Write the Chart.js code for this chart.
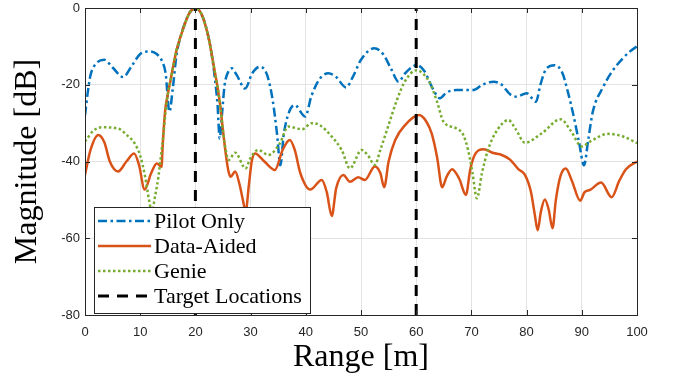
<!DOCTYPE html>
<html><head><meta charset="utf-8">
<script src="https://cdn.jsdelivr.net/npm/chart.js@4/dist/chart.umd.min.js"></script>
<style>html,body{margin:0;padding:0;background:#fff}canvas{display:block}</style>
</head><body>
<canvas id="c" width="675" height="379"></canvas>
<script>
// ---- data ----
const rangeTicks = [0,10,20,30,40,50,60,70,80,90,100];
const magTicks = [-80,-60,-40,-20,0];
const seriesLabels = ["Pilot Only","Data-Aided","Genie","Target Locations"];
const targetRanges = [20, 60];

const pilotRange = [0,0.5,1,2,3.5,5,6.9,8.5,10,11.8,13,14,14.6,15.3,15.9,16.6,17.5,18,18.5,19,19.5,20,20.5,21,21.5,22,22.5,23,23.5,24,24.4,24.8,25.3,26,26.6,27.5,29,30.3,31.7,33,34,34.8,35.4,36,37,38,39.9,41,42.5,44.1,45.5,47.3,48.5,50,52.4,54,55.5,56.8,58,60.1,61.5,63,64.3,65.5,67.3,70.3,72,74,75.5,77,78.2,80,81.7,82.5,83.5,85.1,86.5,87.5,88.5,89.5,90.4,91.2,92,93.9,95.5,97.5,99,100];
const pilotMag = [-28,-22,-17.5,-14.5,-13.5,-15.5,-18,-15,-12,-11.3,-12,-14,-17,-27,-21,-12,-6.6,-4.3,-2.5,-1.1,-0.3,0,-0.3,-1.3,-3,-5.3,-8.5,-12.5,-18,-25,-34,-28,-20,-16.5,-15.7,-17.5,-21,-17,-15.3,-17.5,-24,-33,-41,-33,-27,-25.3,-28.3,-23,-18.5,-17,-18,-20.7,-18,-13.5,-10.5,-12,-16,-19.2,-17,-14.9,-16.5,-21,-23.5,-22,-21.4,-21.4,-20,-19.2,-20,-22.5,-23.1,-22.2,-24.4,-20,-16,-14.9,-17,-22,-28,-35,-41,-34,-27,-20.5,-16.5,-13,-11,-10];

const dataRange = [0,1,2.4,3.5,4.5,6,7.5,8.9,9.8,10.8,12,13,13.9,14,14.5,15,15.5,16,16.6,17.5,18,18.5,19,19.5,20,20.5,21,21.5,22,22.5,23,23.5,24,24.5,25,25.5,26,26.4,27.2,28,28.6,29.1,29.7,30.2,30.8,32.5,34.4,35.8,37.1,38,39,40.8,42.9,43.8,44.7,45.5,46.8,48,49.5,50.7,52.5,53.5,54.2,55,56.2,58,60.5,61.8,62.8,63.8,64.7,65.5,66.5,67.8,69,69.8,70.7,72.2,74,75.5,77,78.5,79.7,80.8,81.5,82,82.6,83.3,84,84.7,85.3,86.2,87.1,88.2,89.7,90.5,91.5,93.5,95.4,96.8,98,100];
const dataMag = [-43.5,-37,-33.1,-35,-40,-42.6,-40,-37.9,-41,-47.3,-43,-40.5,-41.4,-38,-27,-22.5,-18.8,-15,-10.9,-6.6,-4.5,-2.6,-1.1,-0.3,0,-0.3,-1.3,-3,-5.5,-8.5,-12.5,-16.5,-20.5,-25.5,-32,-38,-42.6,-44,-42.6,-46,-50,-53,-46,-40,-37.9,-40,-42.2,-37,-34.4,-37,-43,-47.3,-44.8,-48,-54.2,-47,-43.5,-45.3,-44.1,-44.8,-41.3,-43,-46.7,-40,-34.4,-30.5,-27.9,-29.5,-32.7,-39,-46.7,-44,-42,-44.5,-48.7,-42,-38,-36.8,-37.8,-38.3,-39.5,-42,-43.5,-48,-54,-57.9,-53,-49.9,-52.5,-57.4,-50,-43.5,-41.8,-45,-50.2,-48,-47.4,-45.5,-49.3,-45,-42,-40];

const genieRange = [0,1.5,3,6,7.5,9,10,10.9,11.6,12.1,12.7,13.3,13.8,14.2,14.6,15,15.5,16,16.6,17.5,18,18.5,19,19.5,20,20.5,21,21.5,22,22.5,23,23.5,24,24.5,25,25.5,26,27.2,29.1,30,31.4,33.2,35.3,36.8,39.3,41.1,42.5,44.7,46.5,48,50.1,51.3,52.5,53.5,54.9,56.5,58,60.1,61.3,62.5,63.8,64.9,67.3,68.5,69.4,70.2,71,71.9,73,74.3,76.7,78,79.7,82.7,86.2,88,90,91.5,94.8,97.5,100];
const genieMag = [-34.8,-32,-31.1,-31.4,-33,-35.3,-38.5,-44,-50,-53,-49,-44,-38,-33,-27,-22.5,-18.8,-15,-10.9,-6.6,-4.5,-2.6,-1.1,-0.3,0,-0.3,-1.3,-3,-5.5,-8.5,-12.5,-16.5,-20.5,-25.5,-32,-37,-39.6,-37.7,-41.8,-39,-37,-38.3,-35.3,-30.9,-31.6,-30,-30.5,-33.5,-37,-41.8,-37,-38.5,-40.9,-37,-30.9,-24,-19,-16.2,-17.2,-19.6,-24.5,-29.5,-31.4,-33,-37,-43,-49.6,-43.1,-37,-32.7,-29.2,-31.5,-35.1,-32.7,-29,-32,-36.1,-34.8,-32.8,-33.5,-35.2];

// ---- build datasets ----
const toPts = (xs, ys) => xs.map((x, i) => ({x: x, y: ys[i]}));
const targetPts = [];
targetRanges.forEach((r, i) => {
  if (i > 0) targetPts.push({x: (targetRanges[i-1] + r) / 2, y: null});
  targetPts.push({x: r, y: magTicks[0]});
  targetPts.push({x: r, y: magTicks[magTicks.length-1]});
});

const COL_PILOT = '#0072BD', COL_DATA = '#D95319', COL_GENIE = '#77AC30';
const datasets = [
  {label: seriesLabels[0], data: toPts(pilotRange, pilotMag), borderColor: COL_PILOT, borderWidth: 2.5, borderDash: [9,3.5,2.5,3.5], order: 4},
  {label: seriesLabels[1], data: toPts(dataRange, dataMag), borderColor: COL_DATA, borderWidth: 2.5, borderDash: [], order: 3},
  {label: seriesLabels[2], data: toPts(genieRange, genieMag), borderColor: COL_GENIE, borderWidth: 2.5, borderDash: [2.5,2.5], order: 2},
  {label: seriesLabels[3], data: targetPts, borderColor: '#000000', borderWidth: 3, borderDash: [11,8], order: 1, cubicInterpolationMode: 'default', tension: 0, spanGaps: false}
];
datasets.forEach(d => {
  d.pointRadius = 0; d.fill = false; d.backgroundColor = d.borderColor;
  if (!d.cubicInterpolationMode) d.cubicInterpolationMode = 'monotone';
});

const AX = '#262626';
const SERIF = '"Liberation Serif","DejaVu Serif",serif';

// inward ticks, box, and in-axes legend
const boxPlugin = {
  id: 'box',
  afterDatasetsDraw(chart) {
    const ctx = chart.ctx, a = chart.chartArea;
    const xs = chart.scales.x, ys = chart.scales.y;
    ctx.save();
    ctx.strokeStyle = AX; ctx.lineWidth = 1; ctx.setLineDash([]);
    ctx.strokeRect(Math.round(a.left)+0.5, Math.round(a.top)+0.5, Math.round(a.right-a.left), Math.round(a.bottom-a.top));
    const L = 5;
    ctx.beginPath();
    rangeTicks.forEach(v => {
      const px = Math.round(xs.getPixelForValue(v)) + 0.5;
      ctx.moveTo(px, a.bottom); ctx.lineTo(px, a.bottom - L);
      ctx.moveTo(px, a.top); ctx.lineTo(px, a.top + L);
    });
    magTicks.forEach(v => {
      const py = Math.round(ys.getPixelForValue(v)) + 0.5;
      ctx.moveTo(a.left, py); ctx.lineTo(a.left + L, py);
      ctx.moveTo(a.right, py); ctx.lineTo(a.right - L, py);
    });
    ctx.stroke();

    // legend
    const lx = a.left + 9, ly = 207, lw = 216, lh = 106;
    ctx.fillStyle = '#ffffff';
    ctx.fillRect(lx, ly, lw, lh);
    ctx.strokeStyle = AX; ctx.lineWidth = 1;
    ctx.strokeRect(lx + 0.5, ly + 0.5, lw, lh);
    ctx.font = '22px ' + SERIF;
    ctx.textBaseline = 'middle';
    ctx.textAlign = 'left';
    chart.data.datasets.forEach((d, i) => {
      const cy = ly + 14 + i * 25;
      ctx.strokeStyle = d.borderColor;
      ctx.lineWidth = d.borderWidth;
      ctx.setLineDash(d.borderDash || []);
      ctx.beginPath();
      ctx.moveTo(lx + 4, cy); ctx.lineTo(lx + 57, cy);
      ctx.stroke();
      ctx.setLineDash([]);
      ctx.fillStyle = '#000';
      ctx.fillText(d.label, lx + 60, cy + 1);
    });
    ctx.restore();
  }
};

new Chart(document.getElementById('c'), {
  type: 'line',
  data: {datasets},
  plugins: [boxPlugin],
  options: {
    responsive: false, animation: false, devicePixelRatio: 1,
    layout: {padding: {left: 0, right: 38, top: 8, bottom: 0}},
    plugins: {legend: {display: false}, tooltip: {enabled: false}},
    elements: {line: {tension: 0.4}},
    scales: {
      x: {
        type: 'linear', min: 0, max: 100,
        afterBuildTicks: s => { s.ticks = rangeTicks.map(v => ({value: v})); },
        afterFit: s => { s.height = 64; s.paddingLeft = 0; s.paddingRight = 0; },
        grid: {color: '#e3e3e3', drawTicks: false, lineWidth: 1},
        border: {display: false},
        ticks: {color: AX, font: {family: '"Liberation Sans",Arial,sans-serif', size: 13}, padding: 10, maxRotation: 0},
        title: {display: true, text: 'Range [m]', color: '#000', font: {family: SERIF, size: 32}, padding: {top: 0, bottom: 2}}
      },
      y: {
        type: 'linear', min: -80, max: 0,
        afterBuildTicks: s => { s.ticks = magTicks.map(v => ({value: v})); },
        afterFit: s => { s.width = 85; s.paddingTop = 0; s.paddingBottom = 0; },
        grid: {color: '#e3e3e3', drawTicks: false, lineWidth: 1},
        border: {display: false},
        ticks: {color: AX, font: {family: '"Liberation Sans",Arial,sans-serif', size: 13}, padding: 5},
        title: {display: true, text: 'Magnitude [dB]', color: '#000', font: {family: SERIF, size: 32}, padding: {top: 8, bottom: 0}}
      }
    }
  }
});
</script>
</body></html>
